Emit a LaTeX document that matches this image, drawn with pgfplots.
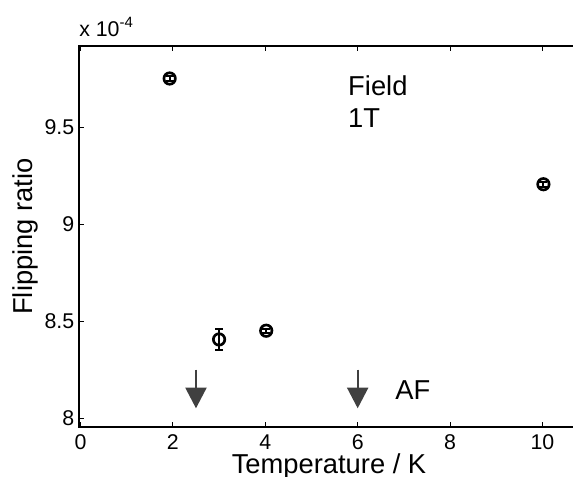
\documentclass[border=0pt]{standalone}
\usepackage{fontspec}
\setmainfont{Liberation Sans}
\usepackage{pgfplots}
\pgfplotsset{compat=1.18}
\usetikzlibrary{arrows.meta}
\definecolor{arrowgray}{HTML}{404040}

\pgfplotstableread{
x     y      err
1.93  9.750  0.012
3.00  8.405  0.055
4.02  8.450  0.010
10.02 9.205  0.012
}\flipdata

\pgfplotstableread{
x    y     v
2.5  8.25  -0.2
6.0  8.25  -0.2
}\arrowdata

\begin{document}
\begin{tikzpicture}
\begin{axis}[
  x=34.65pt, y=145.5pt,
  xmin=-0.032, xmax=10.79,
  ymin=7.9536, ymax=9.9175,
  axis line style={line width=1.2pt},
  xtick={0,2,4,6,8,10},
  ytick={8,8.5,9,9.5},
  yticklabels={8,8.5,9,9.5},
  scaled y ticks=false,
  tick align=inside,
  major tick length=3.75pt,
  every tick/.style={black, line width=0.6pt},
  ytick pos=left,
  xtick pos=both,
  /pgf/number format/assume math mode=true,
  tick label style={font=\fontsize{16}{19}\selectfont},
  xticklabel style={yshift=-2pt},
  label style={font=\fontsize{20.5}{24}\selectfont},
  xlabel={Temperature / K},
  ylabel={Flipping ratio},
  xlabel style={at={(axis description cs:0.5,-0.1225)}, anchor=base},
  ylabel style={at={(axis description cs:-0.094,0.5)}, anchor=base},
  clip=false,
]
\coordinate (O) at (rel axis cs:0,0);
\addplot[black, only marks, mark=o, mark size=4.3pt,
  mark options={line width=2pt},
  error bars/.cd, y dir=both, y explicit,
  error bar style={line width=1.5pt},
  error mark options={rotate=90, mark size=3pt, line width=1.5pt}]
  table[x=x, y=y, y error=err] {\flipdata};
\addplot[arrowgray, line width=1.6pt,
  quiver={u=0, v=\thisrow{v}},
  -{Triangle[width=15.75pt, length=15.5pt]}]
  table[x=x, y=y] {\arrowdata};
\node[anchor=base west, font=\fontsize{20.5}{24}\selectfont, inner sep=0pt]
  at (axis cs:5.79,9.66) {Field};
\node[anchor=base west, font=\fontsize{20.5}{24}\selectfont, inner sep=0pt]
  at (axis cs:5.79,9.50) {1T};
\node[anchor=base west, font=\fontsize{20.5}{24}\selectfont, inner sep=0pt]
  at (axis cs:6.81,8.093) {AF};
\node[anchor=base west, font=\fontsize{16}{19}\selectfont, inner sep=0pt]
  at ([yshift=7.5pt]rel axis cs:0,1) {x 10\textsuperscript{-4}};
\end{axis}
\pgfresetboundingbox
\path[use as bounding box] (O) ++(-59.25pt,-36.75pt) rectangle ++(429.75pt,357pt);
\end{tikzpicture}
\end{document}
